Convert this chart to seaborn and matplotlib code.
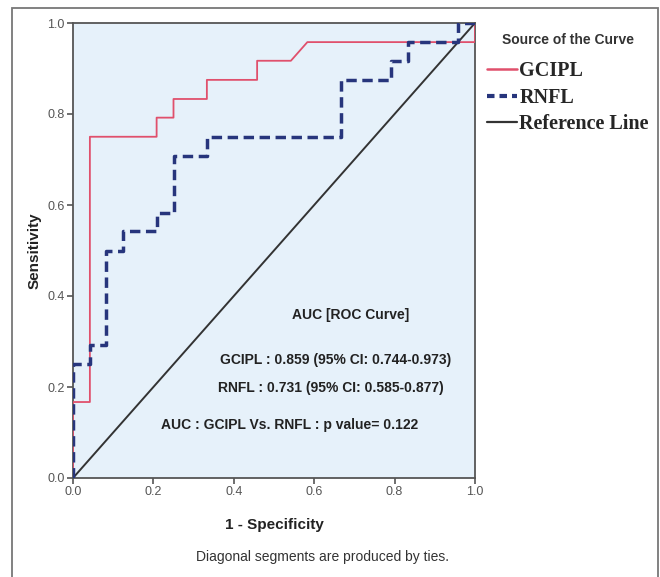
import matplotlib
matplotlib.use("Agg")
import matplotlib.pyplot as plt
import seaborn as sns
from matplotlib.lines import Line2D
from matplotlib.patches import Rectangle

# ROC curve vertices (1 - specificity, sensitivity)
gcipl_fpr = [0.0, 0.0, 0.042, 0.042, 0.208, 0.208, 0.25, 0.25, 0.333, 0.333,
             0.458, 0.458, 0.542, 0.583, 1.0, 1.0]
gcipl_tpr = [0.0, 0.167, 0.167, 0.75, 0.75, 0.792, 0.792, 0.833, 0.833, 0.875,
             0.875, 0.917, 0.917, 0.958, 0.958, 1.0]

rnfl_fpr = [0.0, 0.0, 0.042, 0.042, 0.083, 0.083, 0.125, 0.125, 0.208, 0.208,
            0.25, 0.25, 0.333, 0.333, 0.667, 0.667, 0.792, 0.792, 0.833, 0.833,
            0.958, 0.958, 1.0]
rnfl_tpr = [0.0, 0.25, 0.25, 0.292, 0.292, 0.5, 0.5, 0.542, 0.542, 0.583,
            0.583, 0.708, 0.708, 0.75, 0.75, 0.875, 0.875, 0.917, 0.917, 0.958,
            0.958, 1.0, 1.0]

ref_x = [0.0, 1.0]
ref_y = [0.0, 1.0]

ticks = [0.0, 0.2, 0.4, 0.6, 0.8, 1.0]
tick_labels = ["0.0", "0.2", "0.4", "0.6", "0.8", "1.0"]

auc_lines = ["AUC [ROC Curve]",
             "GCIPL : 0.859 (95% CI: 0.744-0.973)",
             "RNFL : 0.731 (95% CI: 0.585-0.877)",
             "AUC : GCIPL Vs. RNFL : p value= 0.122"]

sns.set_style("ticks")
plt.rcParams["font.family"] = ["Liberation Sans Narrow", "Liberation Sans", "DejaVu Sans"]

pink = "#e0506c"
navy = "#27357c"
grey = "#333333"

fig = plt.figure(figsize=(6.6, 5.77), dpi=100)
ax = fig.add_axes([73 / 660, 1 - 478 / 577, 402 / 660, 455 / 577])
ax.set_facecolor("#e6f1fa")

sns.lineplot(x=gcipl_fpr, y=gcipl_tpr, sort=False, estimator=None, ax=ax,
             color=pink, linewidth=1.3, zorder=3)
sns.lineplot(x=rnfl_fpr, y=rnfl_tpr, sort=False, estimator=None, ax=ax,
             color=navy, linewidth=2.5, zorder=4)
ax.lines[-1].set_dashes((3, 1.6))
sns.lineplot(x=ref_x, y=ref_y, sort=False, estimator=None, ax=ax,
             color=grey, linewidth=1.4, zorder=2)

ax.set_xlim(0, 1)
ax.set_ylim(0, 1)
ax.set_xticks(ticks)
ax.set_xticklabels(tick_labels)
ax.set_yticks(ticks)
ax.set_yticklabels(tick_labels)
ax.tick_params(length=4, width=1.2, color="#555555", labelcolor="#555555",
               labelsize=9, pad=2)
for s in ax.spines.values():
    s.set_color("#555555")
    s.set_linewidth(1.3)

ax.set_xlabel("1 - Specificity", fontsize=11, fontweight="bold", color="#222222", labelpad=14)
ax.set_ylabel("Sensitivity", fontsize=11, fontweight="bold", color="#222222", labelpad=4)

# AUC annotation block
for txt, (xp, yp) in zip(auc_lines, [(351, 315), (336, 360), (331, 388), (290, 425)]):
    fig.text(xp / 660, 1 - yp / 577, txt, ha="center", va="center",
             fontsize=10, fontweight="bold", color="#222222")

# legend outside the axes
fig.text(568 / 660, 1 - 40 / 577, "Source of the Curve", ha="center", va="center",
         fontsize=10, fontweight="bold", color="#333333")
handles = [Line2D([], [], color=pink, lw=1.8),
           Line2D([], [], color=navy, lw=3, dashes=(1.8, 1.2)),
           Line2D([], [], color=grey, lw=1.6)]
leg = fig.legend(handles, ["GCIPL", "RNFL", "Reference Line"],
                 loc="upper left", bbox_to_anchor=(469 / 660, 1 - 43 / 577),
                 frameon=False, handlelength=1.5, handletextpad=0.1,
                 labelspacing=0.32,
                 prop={"family": ["Liberation Serif", "DejaVu Serif"],
                       "weight": "bold", "size": 14.5})

fig.text(323 / 660, 1 - 557 / 577, "Diagonal segments are produced by ties.",
         ha="center", va="center", fontsize=10, color="#333333")

fig.add_artist(Rectangle((12 / 660, -0.1), 646 / 660, 1.1 - 8 / 577,
                         transform=fig.transFigure, fill=False,
                         edgecolor="#777777", linewidth=1.3))

fig.savefig("out.png", dpi=100)
